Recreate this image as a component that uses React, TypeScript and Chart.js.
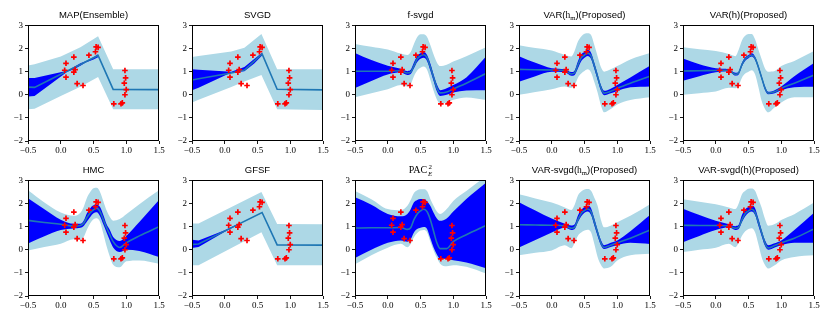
import React, { useEffect, useRef } from "react";
import { Chart, registerables } from "chart.js";
Chart.register(...registerables);

// Observed data points (red crosses), shared by every panel
const pointsX = [0.08, 0.06, 0.08, 0.2, 0.2, 0.22, 0.25, 0.34, 0.43, 0.53, 0.54, 0.57, 0.81, 0.92, 0.94, 0.98, 0.99, 0.97, 1.0, 0.98];
const pointsY = [1.36, 1.06, 0.76, 1.63, 0.98, 1.09, 0.48, 0.4, 1.71, 1.86, 2.07, 2.05, -0.39, -0.39, -0.35, 1.05, 0.73, 0.5, 0.22, 0.0];

// Tick values
const xTicks = [-0.5, 0, 0.5, 1.0, 1.5];
const yTicks = [-2, -1, 0, 1, 2, 3];

// Shared x grid for the smooth (non piecewise) panels
const smoothX = [-0.5, -0.25, 0, 0.2, 0.3, 0.35, 0.4, 0.45, 0.5, 0.55, 0.6, 0.65, 0.7, 0.75, 0.8, 0.9, 1.0, 1.2, 1.5];

// MAP(Ensemble)
const mapX = [-0.5, -0.4, 0.0, 0.3, 0.57, 0.8, 1.5];
const mapLightUp = [1.27, 1.32, 1.65, 2.05, 2.53, 1.1, 1.1];
const mapLightLo = [-0.63, -0.6, -0.05, 0.35, 0.77, -0.63, -0.63];
const mapMean = [0.33, 0.32, 0.89, 1.31, 1.7, 0.23, 0.22];
const mapDarkX = [-0.5, -0.4, 0.1, 0.2, 0.3, 0.38, 0.5, 0.57];
const mapDarkUp = [0.72, 0.72, 1.04, 1.2, 1.36, 1.45, 1.62, 1.75];
const mapDarkLo = [-0.07, -0.05, 1.0, 1.1, 1.25, 1.4, 1.52, 1.62];

// SVGD
const svgdX = [-0.5, -0.4, 0.1, 0.3, 0.56, 0.8, 1.5];
const svgdLightUp = [1.63, 1.68, 1.87, 2.03, 2.63, 1.1, 1.1];
const svgdLightLo = [-0.33, -0.22, 0.34, 0.57, 0.86, -0.63, -0.66];
const svgdMeanX = [-0.5, -0.4, 0.1, 0.3, 0.57, 0.8, 1.5];
const svgdMean = [0.64, 0.69, 0.94, 1.07, 1.77, 0.24, 0.21];
const svgdDarkX = [-0.5, -0.4, 0.1, 0.3, 0.45, 0.57];
const svgdDarkUp = [1.1, 1.08, 1.0, 1.2, 1.55, 1.82];
const svgdDarkLo = [0.2, 0.3, 0.96, 1.02, 1.35, 1.7];

// f-svgd
const fsLightUp = [2.2, 2.08, 1.96, 1.78, 1.72, 1.85, 2.2, 2.5, 2.62, 2.62, 2.5, 2.15, 1.74, 1.4, 1.24, 1.3, 1.44, 1.67, 2.06];
const fsLightLo = [-0.11, 0.07, 0.24, 0.42, 0.36, 0.45, 0.8, 1.05, 1.17, 1.22, 1.08, 0.65, 0.17, -0.2, -0.38, -0.33, -0.22, -0.12, -0.23];
const fsDarkUp = [1.81, 1.5, 1.25, 1.12, 1.02, 1.08, 1.4, 1.68, 1.8, 1.85, 1.72, 1.35, 0.88, 0.45, 0.2, 0.28, 0.42, 0.75, 1.65];
const fsDarkLo = [0.29, 0.6, 0.88, 0.96, 0.86, 0.9, 1.15, 1.42, 1.56, 1.6, 1.46, 1.05, 0.6, 0.15, -0.05, 0.0, 0.1, 0.18, 0.2];
const fsMean = [1.02, 1.02, 1.02, 1.04, 0.94, 0.98, 1.25, 1.55, 1.68, 1.73, 1.6, 1.2, 0.75, 0.3, 0.08, 0.12, 0.25, 0.5, 0.92];

// VAR(h_m)(Proposed)
const vhmLightUp = [2.14, 2.02, 1.91, 1.72, 1.66, 1.9, 2.3, 2.52, 2.64, 2.66, 2.58, 2.15, 1.67, 1.2, 1.0, 1.1, 1.24, 1.53, 1.81];
const vhmLightLo = [0.0, 0.12, 0.24, 0.36, 0.3, 0.42, 0.74, 0.92, 1.03, 1.1, 0.96, 0.55, 0.1, -0.45, -0.76, -0.62, -0.42, -0.23, -0.11];
const vhmDarkUp = [1.67, 1.38, 1.15, 1.1, 0.98, 1.05, 1.45, 1.75, 1.85, 1.95, 1.82, 1.38, 0.9, 0.42, 0.17, 0.26, 0.42, 0.75, 1.25];
const vhmDarkLo = [0.56, 0.8, 0.99, 0.97, 0.82, 0.86, 1.15, 1.45, 1.6, 1.68, 1.55, 1.12, 0.65, 0.18, -0.02, 0.06, 0.16, 0.32, 0.36];
const vhmMean = [1.1, 1.08, 1.07, 1.04, 0.9, 0.95, 1.3, 1.6, 1.72, 1.8, 1.68, 1.25, 0.78, 0.3, 0.07, 0.15, 0.28, 0.5, 0.8];

// VAR(h)(Proposed)
const vhLightUp = [2.06, 1.97, 1.89, 1.76, 1.67, 1.95, 2.35, 2.55, 2.63, 2.63, 2.4, 1.96, 1.55, 1.15, 1.0, 1.03, 1.24, 1.46, 1.89];
const vhLightLo = [0.0, 0.07, 0.14, 0.3, 0.28, 0.4, 0.74, 0.92, 1.0, 1.06, 0.89, 0.35, -0.26, -0.6, -0.76, -0.54, -0.33, -0.11, -0.11];
const vhDarkUp = [1.57, 1.32, 1.15, 1.1, 0.95, 1.0, 1.38, 1.62, 1.72, 1.8, 1.66, 1.28, 0.82, 0.38, 0.13, 0.2, 0.36, 0.8, 1.37];
const vhDarkLo = [0.61, 0.8, 0.97, 1.02, 0.83, 0.88, 1.22, 1.47, 1.58, 1.65, 1.5, 1.12, 0.68, 0.22, 0.02, 0.07, 0.2, 0.33, 0.35];
const vhMean = [1.03, 1.04, 1.05, 1.06, 0.88, 0.95, 1.3, 1.55, 1.65, 1.72, 1.58, 1.2, 0.75, 0.3, 0.07, 0.13, 0.28, 0.5, 0.85];

// HMC
const hmcLightUp = [2.57, 2.04, 1.61, 1.47, 1.6, 1.85, 2.25, 2.5, 2.66, 2.68, 2.5, 2.1, 1.7, 1.42, 1.26, 1.33, 1.54, 1.97, 2.57];
const hmcLightLo = [-0.03, 0.12, 0.26, 0.45, 0.42, 0.55, 0.88, 1.15, 1.32, 1.36, 1.2, 0.7, 0.15, -0.3, -0.65, -0.76, -0.5, -0.46, -0.6];
const hmcDarkUp = [2.23, 1.75, 1.3, 1.12, 1.12, 1.25, 1.58, 1.8, 1.92, 1.95, 1.85, 1.5, 1.1, 0.85, 0.55, 0.38, 0.6, 1.2, 2.15];
const hmcDarkLo = [0.27, 0.58, 0.85, 0.92, 0.95, 1.03, 1.22, 1.42, 1.58, 1.62, 1.45, 1.1, 0.75, 0.4, 0.1, -0.1, 0.0, -0.05, -0.31];
const hmcMean = [1.27, 1.18, 1.1, 1.02, 1.05, 1.15, 1.4, 1.6, 1.73, 1.8, 1.65, 1.3, 0.95, 0.65, 0.35, 0.1, 0.3, 0.6, 1.0];

// GFSF
const gfsfX = [-0.5, -0.4, 0.56, 0.8, 1.5];
const gfsfLightUp = [1.14, 1.14, 2.5, 1.11, 1.1];
const gfsfLightLo = [-0.67, -0.67, 0.76, -0.67, -0.67];
const gfsfMeanX = [-0.5, -0.4, 0.57, 0.8, 1.5];
const gfsfMean = [0.23, 0.25, 1.61, 0.21, 0.2];
const gfsfDarkX = [-0.5, -0.4, 0.0, 0.2];
const gfsfDarkUp = [0.43, 0.4, 0.84, 1.11];
const gfsfDarkLo = [0.08, 0.12, 0.78, 1.07];

// PAC^2_E
const pacLightUp = [2.54, 2.19, 1.76, 1.71, 1.9, 2.15, 2.45, 2.57, 2.62, 2.62, 2.54, 2.2, 1.9, 1.65, 1.55, 1.76, 2.11, 2.54, 3.19];
const pacLightLo = [-0.63, -0.24, 0.09, 0.26, 0.11, 0.25, 0.54, 0.72, 0.83, 0.86, 0.76, 0.35, -0.03, -0.35, -0.6, -0.71, -0.67, -0.74, -1.03];
const pacDarkUp = [2.27, 1.95, 1.55, 1.45, 1.55, 1.75, 2.05, 2.15, 2.2, 2.2, 2.1, 1.9, 1.6, 1.35, 1.25, 1.35, 1.65, 2.2, 2.9];
const pacDarkLo = [-0.36, 0.0, 0.3, 0.4, 0.35, 0.45, 0.75, 0.9, 0.95, 0.98, 0.9, 0.5, 0.1, -0.2, -0.38, -0.4, -0.45, -0.55, -0.8];
const pacMean = [0.94, 0.95, 0.95, 0.96, 0.88, 0.95, 1.3, 1.55, 1.68, 1.75, 1.65, 1.3, 0.8, 0.3, 0.05, 0.05, 0.35, 0.65, 1.05];

// VAR-svgd(h_m)(Proposed)
const vshmLightUp = [2.4, 2.22, 2.04, 1.83, 1.72, 1.95, 2.35, 2.52, 2.61, 2.63, 2.55, 2.25, 1.9, 1.3, 0.97, 1.04, 1.19, 1.47, 1.97];
const vshmLightLo = [-0.24, -0.13, -0.03, 0.19, 0.06, 0.3, 0.61, 0.75, 0.83, 0.87, 0.76, 0.25, -0.31, -0.65, -0.81, -0.74, -0.46, -0.24, -0.17];
const vshmDarkUp = [2.06, 1.7, 1.35, 1.12, 1.05, 1.1, 1.48, 1.72, 1.85, 1.9, 1.8, 1.35, 0.85, 0.42, 0.2, 0.3, 0.4, 0.8, 1.5];
const vshmDarkLo = [0.1, 0.42, 0.75, 0.95, 0.86, 0.9, 1.2, 1.45, 1.6, 1.65, 1.5, 1.05, 0.6, 0.2, 0.03, 0.12, 0.2, 0.3, 0.25];
const vshmMean = [1.08, 1.07, 1.06, 1.03, 0.93, 0.98, 1.3, 1.58, 1.7, 1.76, 1.65, 1.2, 0.75, 0.3, 0.1, 0.2, 0.3, 0.5, 0.85];

// VAR-svgd(h)(Proposed)
const vshLightUp = [2.19, 2.08, 1.97, 1.83, 1.76, 2.0, 2.4, 2.55, 2.64, 2.65, 2.55, 2.2, 1.83, 1.35, 1.04, 1.11, 1.29, 1.54, 2.04];
const vshLightLo = [-0.1, 0.0, 0.09, 0.26, 0.11, 0.3, 0.61, 0.8, 0.9, 0.93, 0.76, 0.25, -0.31, -0.65, -0.81, -0.67, -0.46, -0.31, -0.24];
const vshDarkUp = [1.77, 1.5, 1.25, 1.1, 1.02, 1.08, 1.5, 1.75, 1.85, 1.9, 1.8, 1.35, 0.85, 0.42, 0.2, 0.28, 0.4, 0.85, 1.6];
const vshDarkLo = [0.33, 0.6, 0.85, 0.97, 0.86, 0.9, 1.2, 1.45, 1.6, 1.65, 1.5, 1.05, 0.6, 0.18, 0.0, 0.1, 0.2, 0.3, 0.3];
const vshMean = [1.06, 1.05, 1.05, 1.03, 0.93, 0.98, 1.3, 1.57, 1.68, 1.75, 1.62, 1.2, 0.75, 0.3, 0.08, 0.18, 0.3, 0.5, 0.9];

const COL_LEFT = [28, 192, 355, 519, 683];
const ROW_TOP = [24, 179];
const TITLE_MID = [15, 170];
const PLOT_W = 131;
const PLOT_H = 117;
const PAD_TOP = 6;
const PAD_RIGHT = 12;
const Y_AXIS_W = 28;
const X_AXIS_H = 16;

const serif = "'Liberation Serif', 'DejaVu Serif', serif";
const sans = "'Liberation Sans', 'DejaVu Sans', sans-serif";

const Hm = () => (
  <span style={{ fontFamily: serif }}>
    h<sub style={{ fontSize: "0.7em", verticalAlign: "-0.25em" }}>m</sub>
  </span>
);

const PacTitle = () => (
  <span style={{ fontFamily: serif, fontSize: "1.05em" }}>
    PAC
    <span style={{ display: "inline-flex", flexDirection: "column", verticalAlign: "middle", fontSize: "0.7em", lineHeight: "0.95em", marginLeft: 1 }}>
      <span>2</span>
      <span style={{ fontStyle: "italic" }}>E</span>
    </span>
  </span>
);

type Panel = {
  title: React.ReactNode;
  lightX: number[];
  lightUp: number[];
  lightLo: number[];
  darkX: number[];
  darkUp: number[];
  darkLo: number[];
  meanX: number[];
  mean: number[];
  smooth: boolean;
};

const panels: Panel[] = [
  { title: "MAP(Ensemble)", lightX: mapX, lightUp: mapLightUp, lightLo: mapLightLo, darkX: mapDarkX, darkUp: mapDarkUp, darkLo: mapDarkLo, meanX: mapX, mean: mapMean, smooth: false },
  { title: "SVGD", lightX: svgdX, lightUp: svgdLightUp, lightLo: svgdLightLo, darkX: svgdDarkX, darkUp: svgdDarkUp, darkLo: svgdDarkLo, meanX: svgdMeanX, mean: svgdMean, smooth: false },
  { title: "f-svgd", lightX: smoothX, lightUp: fsLightUp, lightLo: fsLightLo, darkX: smoothX, darkUp: fsDarkUp, darkLo: fsDarkLo, meanX: smoothX, mean: fsMean, smooth: true },
  { title: <>VAR(<Hm />)(Proposed)</>, lightX: smoothX, lightUp: vhmLightUp, lightLo: vhmLightLo, darkX: smoothX, darkUp: vhmDarkUp, darkLo: vhmDarkLo, meanX: smoothX, mean: vhmMean, smooth: true },
  { title: "VAR(h)(Proposed)", lightX: smoothX, lightUp: vhLightUp, lightLo: vhLightLo, darkX: smoothX, darkUp: vhDarkUp, darkLo: vhDarkLo, meanX: smoothX, mean: vhMean, smooth: true },
  { title: "HMC", lightX: smoothX, lightUp: hmcLightUp, lightLo: hmcLightLo, darkX: smoothX, darkUp: hmcDarkUp, darkLo: hmcDarkLo, meanX: smoothX, mean: hmcMean, smooth: true },
  { title: "GFSF", lightX: gfsfX, lightUp: gfsfLightUp, lightLo: gfsfLightLo, darkX: gfsfDarkX, darkUp: gfsfDarkUp, darkLo: gfsfDarkLo, meanX: gfsfMeanX, mean: gfsfMean, smooth: false },
  { title: <PacTitle />, lightX: smoothX, lightUp: pacLightUp, lightLo: pacLightLo, darkX: smoothX, darkUp: pacDarkUp, darkLo: pacDarkLo, meanX: smoothX, mean: pacMean, smooth: true },
  { title: <>VAR-svgd(<Hm />)(Proposed)</>, lightX: smoothX, lightUp: vshmLightUp, lightLo: vshmLightLo, darkX: smoothX, darkUp: vshmDarkUp, darkLo: vshmDarkLo, meanX: smoothX, mean: vshmMean, smooth: true },
  { title: "VAR-svgd(h)(Proposed)", lightX: smoothX, lightUp: vshLightUp, lightLo: vshLightLo, darkX: smoothX, darkUp: vshDarkUp, darkLo: vshDarkLo, meanX: smoothX, mean: vshMean, smooth: true },
];

const toPts = (xs: number[], ys: number[]) => xs.map((x, i) => ({ x, y: ys[i] }));
const fmtMinus = (s: string) => s.replace("-", "\u2212");

const framePlugin = {
  id: "frame",
  afterDraw(chart: any) {
    const { ctx, chartArea: a } = chart;
    ctx.save();
    ctx.strokeStyle = "#000";
    ctx.lineWidth = 1;
    ctx.strokeRect(Math.round(a.left) + 0.5, Math.round(a.top) + 0.5, Math.round(a.right - a.left) - 1, Math.round(a.bottom - a.top) - 1);
    ctx.restore();
  },
};

function PanelChart({ p, col, row }: { p: Panel; col: number; row: number }) {
  const ref = useRef<HTMLCanvasElement>(null);
  const cw = Y_AXIS_W + PLOT_W + PAD_RIGHT;
  const ch = PAD_TOP + PLOT_H + X_AXIS_H;
  useEffect(() => {
    if (!ref.current) return;
    const interp = p.smooth ? "monotone" : "default";
    const band = (xs: number[], ys: number[], color: string, fill: any) => ({
      type: "line" as const,
      data: toPts(xs, ys),
      borderWidth: 0,
      borderColor: "rgba(0,0,0,0)",
      backgroundColor: color,
      fill,
      pointRadius: 0,
      tension: 0,
      cubicInterpolationMode: interp,
    });
    const chart = new Chart(ref.current, {
      type: "line",
      data: {
        datasets: [
          {
            type: "scatter",
            data: toPts(pointsX, pointsY),
            pointStyle: "cross",
            pointRadius: 2.8,
            pointBorderWidth: 1.7,
            borderColor: "#ff0000",
            backgroundColor: "#ff0000",
          } as any,
          {
            type: "line",
            data: toPts(p.meanX, p.mean),
            borderColor: "#1f77b4",
            borderWidth: 1.6,
            pointRadius: 0,
            fill: false,
            tension: 0,
            cubicInterpolationMode: interp,
          },
          band(p.darkX, p.darkUp, "#0000ff", "+1"),
          band(p.darkX, p.darkLo, "#0000ff", false),
          band(p.lightX, p.lightUp, "#add8e6", "+1"),
          band(p.lightX, p.lightLo, "#add8e6", false),
        ],
      },
      options: {
        animation: false,
        responsive: false,
        events: [],
        layout: { padding: { top: PAD_TOP, right: PAD_RIGHT, left: 0, bottom: 0 } },
        plugins: { legend: { display: false }, tooltip: { enabled: false }, title: { display: false } },
        scales: {
          x: {
            type: "linear",
            min: -0.5,
            max: 1.5,
            afterFit: (s: any) => { s.height = X_AXIS_H; },
            afterBuildTicks: (s: any) => { s.ticks = xTicks.map((v) => ({ value: v })); },
            grid: { display: true, drawOnChartArea: false, drawTicks: true, tickLength: 3, color: "#000", lineWidth: 0.9 },
            border: { display: false },
            ticks: {
              autoSkip: false,
              maxRotation: 0,
              padding: 1,
              color: "#000",
              font: { family: serif, size: 9 },
              callback: (v: any) => fmtMinus(Number(v).toFixed(1)),
            },
          },
          y: {
            type: "linear",
            min: -2,
            max: 3,
            afterFit: (s: any) => { s.width = Y_AXIS_W; },
            afterBuildTicks: (s: any) => { s.ticks = yTicks.map((v) => ({ value: v })); },
            grid: { display: true, drawOnChartArea: false, drawTicks: true, tickLength: 3, color: "#000", lineWidth: 0.9 },
            border: { display: false },
            ticks: {
              autoSkip: false,
              padding: 2,
              color: "#000",
              font: { family: serif, size: 9 },
              callback: (v: any) => fmtMinus(String(v)),
            },
          },
        },
      },
      plugins: [framePlugin],
    } as any);
    return () => chart.destroy();
  }, [p]);

  const left = COL_LEFT[col];
  const top = ROW_TOP[row];
  return (
    <>
      <canvas
        ref={ref}
        width={cw}
        height={ch}
        style={{ position: "absolute", left: left - Y_AXIS_W, top: top - PAD_TOP, width: cw, height: ch }}
      />
      <div
        style={{
          position: "absolute",
          left: left - 20,
          width: PLOT_W + 40,
          top: TITLE_MID[row] - 7,
          height: 14,
          lineHeight: "14px",
          textAlign: "center",
          fontFamily: sans,
          fontSize: 9.5,
          color: "#000",
          whiteSpace: "nowrap",
        }}
      >
        {p.title}
      </div>
    </>
  );
}

export default function App() {
  return (
    <div style={{ position: "absolute", left: 0, top: 0, width: 830, height: 320, background: "#fff", overflow: "hidden" }}>
      {panels.map((p, i) => (
        <PanelChart key={i} p={p} col={i % 5} row={Math.floor(i / 5)} />
      ))}
    </div>
  );
}
